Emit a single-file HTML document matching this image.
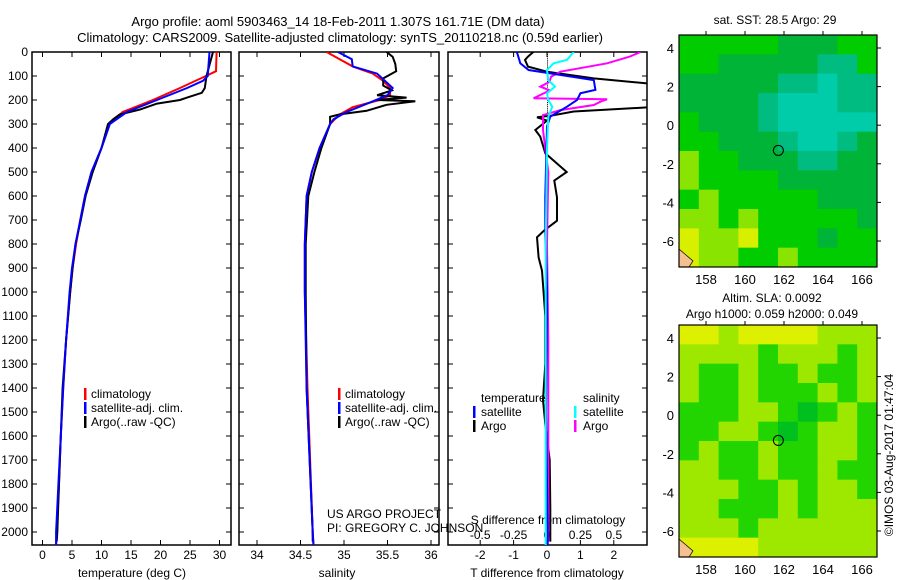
<!DOCTYPE html>
<html><head><meta charset="utf-8">
<style>
body{margin:0;background:#fff;}
svg{display:block;font-family:"Liberation Sans",sans-serif;}
text{font-size:12px;fill:#000;}
</style></head>
<body>
<svg id="fig" width="900" height="580" viewBox="0 0 900 580">
<text x="338" y="26" text-anchor="middle" style="font-size:13px">Argo profile: aoml 5903463_14 18-Feb-2011 1.307S 161.71E (DM data)</text>
<text x="340" y="42" text-anchor="middle" style="font-size:13px">Climatology: CARS2009. Satellite-adjusted climatology: synTS_20110218.nc (0.59d earlier)</text>
<g id="plots"></g>
</svg>
<script>
// ---------- data ----------
const depthTicks=[0,100,200,300,400,500,600,700,800,900,1000,1100,1200,1300,1400,1500,1600,1700,1800,1900,2000];
const tempTicks=[0,5,10,15,20,25,30];
const salTicks=[34,34.5,35,35.5,36];
const tdTicks=[-2,-1,0,1,2];
const sdTicks=[-0.5,-0.25,0,0.25,0.5];
const sdTickLabels=["-0.5","-0.25","0","0.25","0.5"];

const tClimDepth=[0,80,100,150,200,250,300,400,500,600,700,800,900,1000,1200,1400,1600,1800,2000,2055];
const tClimVal=[29.5,29.4,27.7,23.3,18.7,13.6,11.4,10.0,8.3,7.2,6.4,5.7,5.1,4.7,4.0,3.5,3.1,2.8,2.4,2.3];
const tSatDepth=[0,100,120,150,200,250,300,400,500,600,700,800,900,1000,1200,1400,1600,1800,2000,2055];
const tSatVal=[28.3,28.0,27.2,24.5,19.4,14.3,11.4,10.0,8.3,7.2,6.4,5.6,5.0,4.6,4.0,3.5,3.1,2.7,2.3,2.3];
const tArgoDepth=[0,100,150,170,190,200,215,240,260,280,300,400,500,600,700,800,900,1000,1200,1400,1600,1800,2000,2040];
const tArgoVal=[28.9,27.8,27.5,27.0,24.5,23.3,19.4,16.5,13.1,12.0,11.1,10.0,8.5,7.3,6.5,5.6,5.1,4.7,4.0,3.4,3.1,2.8,2.5,2.4];

const sClimDepth=[0,30,60,90,120,150,180,200,230,260,300,400,500,600,800,1000,1400,2000,2055];
const sClimVal=[34.80,34.95,35.10,35.33,35.45,35.53,35.53,35.41,35.10,34.95,34.84,34.72,34.63,34.57,34.55,34.55,34.58,34.64,34.65];
const sSatDepth=[0,30,60,90,150,180,210,250,280,300,400,500,600,800,1000,1400,2000,2055];
const sSatVal=[34.93,35.09,35.10,35.38,35.56,35.50,35.30,35.03,34.88,34.84,34.72,34.63,34.57,34.55,34.55,34.57,34.64,34.65];
const sArgoDepth=[0,20,50,80,110,140,160,180,190,200,205,220,245,260,270,300,400,500,600,800,1000,1400,2000,2040];
const sArgoVal=[35.49,35.56,35.59,35.60,35.45,35.45,35.55,35.38,35.72,35.37,35.82,35.49,35.26,34.95,34.84,34.84,34.74,34.66,34.59,34.56,34.56,34.57,34.64,34.64];

const dtSatDepth=[0,47,75,89,117,158,172,200,228,269,311,603,742,1000,1500,2000,2055];
const dtSatVal=[-0.9,-0.8,-0.55,0.1,1.4,1.45,1.0,0.9,0.6,0.1,0,-0.05,-0.05,0,-0.03,0.02,0.02];
const dtArgoDepth=[0,19,33,61,82,110,131,150,200,231,248,266,272,286,325,353,422,500,536,606,703,744,772,856,911,1100,1300,1450,1550,1700,1900,2040];
const dtArgoVal=[-0.41,-0.57,-0.66,-0.57,0,1.4,3.0,3.6,3.6,3.0,0.8,0.1,-0.3,0,-0.35,-0.2,-0.05,0.59,0.22,0.3,0.3,-0.09,-0.3,-0.25,-0.15,-0.05,-0.05,-0.12,-0.05,0.08,0.1,0.1];
const dsSatDepth=[0,33,47,75,117,144,172,200,228,269,400,800,1200,1600,2055];
const dsSatVal=[0.2,0.15,0.05,0,0.01,0.06,0,0.01,0.04,0.01,0,-0.01,-0.01,-0.01,-0.01];
const dsArgoDepth=[0,19,47,82,103,124,144,160,193,197,207,221,242,263,325,500,800,1200,1600,2000,2040];
const dsArgoVal=[0.7,0.62,0.45,0.1,0.03,0.02,-0.05,0.02,-0.1,0.45,0.4,0.35,0.1,-0.03,-0.03,0.01,0,0.01,0.01,0.01,0.01];

// map grids (colour codes)
const sstRows=["GGGGGDDDGG","GGDDDDDttG","DDDDDttTtt","DDDDtTTTtt","GDDDtTTTTT","GGDDDtTTtD","LGGDDDttDD","LGGGGDDDDD","GLGGGGGDDD","LLGLGGGGGD","YLLYGGGDGG","YLLGGLGGGG"];
const slaRows=["YYLYYYYLLL","LLLLGLLLGL","LGGLGGLGGL","LGGLGGGLGL","GGGLLGDGLG","GGLLGDGLLG","GLGGLGGLLG","LLGGLGGLGG","LLLGGLGLLG","LLGGGLGLLL","LLLGLLLLLL","YYYYLLLLLL"];
const latTicks=[4,2,0,-2,-4,-6];
const lonTicks=[158,160,162,164,166];
const argoLon=161.71, argoLat=-1.307;

// ---------- drawing ----------
const NS="http://www.w3.org/2000/svg";
const G=document.getElementById('plots');
function mk(tag,attrs,parent){const e=document.createElementNS(NS,tag);for(const k in attrs)e.setAttribute(k,attrs[k]);(parent||G).appendChild(e);return e;}
const yTop=52,yBot=545;
const yD=d=>yTop+d*0.24;

function frame(x0,x1,name){
  const r=mk('rect',{x:x0,y:yTop,width:x1-x0,height:yBot-yTop,fill:'none',stroke:'#000','stroke-width':1.5});
  
  
  depthTicks.forEach(d=>{mk('line',{x1:x0,x2:x0+5,y1:yD(d),y2:yD(d),stroke:'#000'});mk('line',{x1:x1,x2:x1-5,y1:yD(d),y2:yD(d),stroke:'#000'});});
}
function line(xs,ds,xf,color,name,clip){
  const p=xs.map((v,i)=>(i?'L':'M')+xf(v).toFixed(1)+','+yD(ds[i]).toFixed(1)).join('');
  const a={d:p,fill:'none',stroke:color,'stroke-width':2};
  if(clip)a['clip-path']=clip;
  const e=mk('path',a);
  
  
}
function txt(x,y,s,anchor,name,size){
  const t=mk('text',{x:x,y:y,'text-anchor':anchor||'start'});
  if(size)t.style.fontSize=size+'px';
  t.textContent=s;
  
  
  return t;
}

// panel 1: temperature
const xT=t=>42.5+t*5.9;
frame(32,231,'temperature-panel');
depthTicks.forEach(d=>txt(28,yD(d)+4,String(d),'end','depth-tick-label'));
tempTicks.forEach(t=>{mk('line',{x1:xT(t),x2:xT(t),y1:yTop,y2:yTop+5,stroke:'#000'});mk('line',{x1:xT(t),x2:xT(t),y1:yBot,y2:yBot-5,stroke:'#000'});txt(xT(t),559,String(t),'middle','temperature-tick-label');});
txt(132,577,'temperature (deg C)','middle','temperature-axis-title');
line(tClimVal,tClimDepth,xT,'#ff0000','temperature-climatology-line');
line(tArgoVal,tArgoDepth,xT,'#000000','temperature-argo-line');
line(tSatVal,tSatDepth,xT,'#0000ff','temperature-satellite-line');
[['#f00','climatology',398],['#00f','satellite-adj. clim.',412],['#000','Argo(..raw -QC)',426]].forEach(l=>{mk('rect',{x:84,y:l[2]-10,width:2.5,height:12,fill:l[0]});txt(91,l[2],l[1],'start','temperature-legend-entry');});

// panel 2: salinity
const xS=s=>257+(s-34)*87;
frame(239,439,'salinity-panel');
salTicks.forEach(s=>{mk('line',{x1:xS(s),x2:xS(s),y1:yTop,y2:yTop+5,stroke:'#000'});mk('line',{x1:xS(s),x2:xS(s),y1:yBot,y2:yBot-5,stroke:'#000'});txt(xS(s),559,String(s),'middle','salinity-tick-label');});
txt(337,577,'salinity','middle','salinity-axis-title');
const cp2=mk('clipPath',{id:'c2'});mk('rect',{x:239,y:yTop,width:200,height:yBot-yTop},cp2);
line(sClimVal,sClimDepth,xS,'#ff0000','salinity-climatology-line','url(#c2)');
line(sArgoVal,sArgoDepth,xS,'#000000','salinity-argo-line','url(#c2)');
line(sSatVal,sSatDepth,xS,'#0000ff','salinity-satellite-line','url(#c2)');
[['#f00','climatology',398],['#00f','satellite-adj. clim.',412],['#000','Argo(..raw -QC)',426]].forEach(l=>{mk('rect',{x:338,y:l[2]-10,width:2.5,height:12,fill:l[0]});txt(345,l[2],l[1],'start','salinity-legend-entry');});
txt(327,518,'US ARGO PROJECT','start','project-credit');
txt(327,532,'PI: GREGORY C. JOHNSON','start','pi-credit');

// panel 3: differences
const xDT=v=>547+v*33.4;
const xDS=v=>547+v*133.6;
frame(448,647,'difference-panel');
tdTicks.forEach(v=>{mk('line',{x1:xDT(v),x2:xDT(v),y1:yTop,y2:yTop+5,stroke:'#000'});mk('line',{x1:xDT(v),x2:xDT(v),y1:yBot,y2:yBot-5,stroke:'#000'});txt(xDT(v),559,String(v),'middle','t-difference-tick-label');});
txt(547,577,'T difference from climatology','middle','t-difference-axis-title');
txt(548,524,'S difference from climatology','middle','s-difference-axis-title');
sdTicks.forEach((v,i)=>txt(xDS(v),539,sdTickLabels[i],'middle','s-difference-tick-label'));
for(let d=0;d<=400;d+=8){mk('rect',{x:547,y:yD(d),width:1,height:1,fill:'#000'});}
const cp3=mk('clipPath',{id:'c3'});mk('rect',{x:448,y:yTop,width:199,height:yBot-yTop},cp3);
line(dtArgoVal,dtArgoDepth,xDT,'#000000','t-diff-argo-line','url(#c3)');
line(dsArgoVal,dsArgoDepth,xDS,'#ff00ff','s-diff-argo-line','url(#c3)');
line(dtSatVal,dtSatDepth,xDT,'#0000ff','t-diff-satellite-line','url(#c3)');
line(dsSatVal,dsSatDepth,xDS,'#00ffff','s-diff-satellite-line','url(#c3)');
txt(481,402,'temperature','start','legend-temperature-heading');
txt(583,402,'salinity','start','legend-salinity-heading');
[['#00f','satellite',416,473,481],['#000','Argo',430,473,481],['#0ff','satellite',416,574,583],['#f0f','Argo',430,574,583]].forEach(l=>{mk('rect',{x:l[3],y:l[2]-10,width:2.5,height:12,fill:l[0]});txt(l[4],l[2],l[1],'start','difference-legend-entry');});

// maps
const pal={G:'#00cc00',D:'#00b437',T:'#00ccaa',t:'#00bc80',L:'#88e400',Y:'#d8f000'};
const palS={G:'#22d400',D:'#00c020',L:'#9ee800',Y:'#ddf000'};
function drawMap(y0,rows,p,name){
  const x0=679,x1=877,y1=y0+232;
  const lonX=l=>706+(l-158)*19.5;
  const latY=a=>y0+13+(4-a)*19.3;
  const g=mk('g',{});
  
  
  const cw=(x1-x0)/10,ch=(y1-y0)/12;
  rows.forEach((r,i)=>{for(let j=0;j<10;j++)mk('rect',{x:x0+j*cw,y:y0+i*ch,width:cw+0.5,height:ch+0.5,fill:p[r[j]]},g);});
  mk('path',{d:`M${x0},${y1-18} L${x0+14},${y1-6} L${x0+10},${y1} L${x0},${y1} Z`,fill:'#f4c090',stroke:'#000','stroke-width':0.7},g);
  mk('rect',{x:x0,y:y0,width:x1-x0,height:y1-y0,fill:'none',stroke:'#000','stroke-width':1.2},g);
  const c=mk('circle',{cx:lonX(argoLon),cy:latY(argoLat),r:5,fill:'none',stroke:'#000','stroke-width':1});
  
  
  latTicks.forEach(a=>{mk('line',{x1:x1,x2:x1+4,y1:latY(a),y2:latY(a),stroke:'#000'});txt(674,latY(a)+5,String(a),'end','latitude-tick-label',13);});
  lonTicks.forEach(l=>{mk('line',{x1:lonX(l),x2:lonX(l),y1:y0,y2:y0-4,stroke:'#000'});txt(lonX(l),y1+17,String(l),'middle','longitude-tick-label',13);});
}
drawMap(35,sstRows,pal,'sst-map');
drawMap(325,slaRows,palS,'sla-map');
txt(775,24,'sat. SST: 28.5 Argo: 29','middle','sst-map-title');
txt(772,302,'Altim. SLA: 0.0092','middle','sla-map-title');
txt(772,318,'Argo h1000: 0.059 h2000: 0.049','middle','sla-map-subtitle');
const cr=txt(0,0,'©IMOS 03-Aug-2017 01:47:04','middle','timestamp-credit',12);
cr.setAttribute('transform','translate(893,455) rotate(-90)');
</script>
</body></html>
